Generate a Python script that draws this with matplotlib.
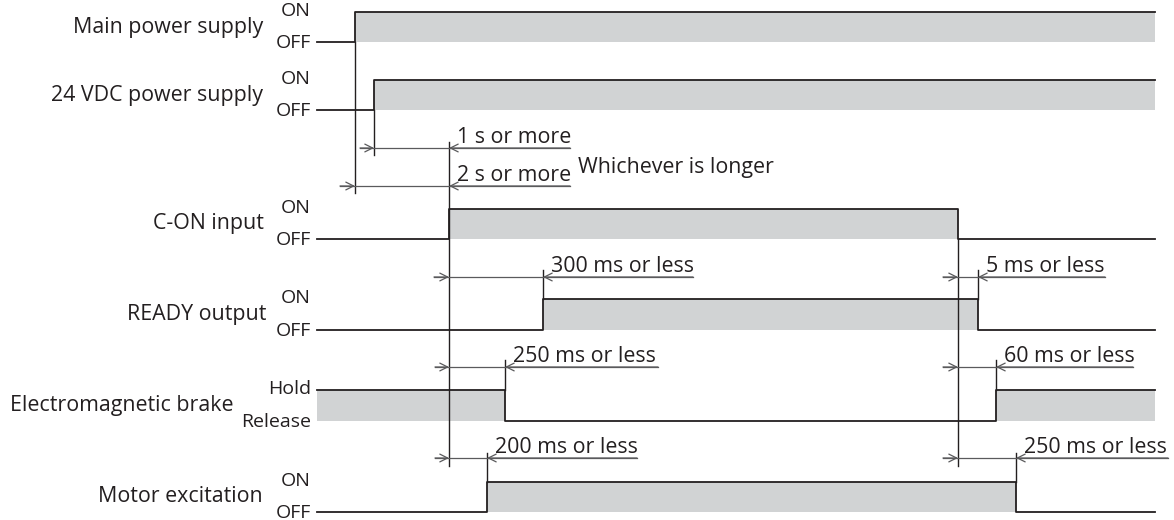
import matplotlib
matplotlib.use("Agg")
import matplotlib.pyplot as plt

# signal rows: name, level labels, y of high level, y of low level
names = ["Main power supply", "24 VDC power supply", "C-ON input",
         "READY output", "Electromagnetic brake", "Motor excitation"]
hi_labels = ["ON", "ON", "ON", "ON", "Hold", "ON"]
lo_labels = ["OFF", "OFF", "OFF", "OFF", "Release", "OFF"]
y_hi = [12, 80, 209, 299, 390, 482]
y_lo = [42, 110, 239, 330, 421, 512]
start_high = [False, False, False, False, True, False]
edges = [[355], [374], [449, 958], [543, 978], [505, 996], [487, 1016]]
x_start, x_end = 317, 1155
name_right = [263, 263, 264, 266, 234, 263]

# extension lines (x, y top, y bottom)
guides = [(355, 42, 193), (374, 110, 155), (449, 142, 466), (958, 239, 466),
          (543, 270, 299), (978, 270, 299), (505, 360, 390), (996, 360, 390),
          (487, 453, 482), (1016, 453, 482)]

# dimension arrows: y, right-pointing tip, left-pointing tip, line start, line end, text
dims = [(148, 374, 449, 360, 570, "1 s or more"),
        (186, 355, 449, 340, 570, "2 s or more"),
        (277, 449, 543, 434, 693, "300 ms or less"),
        (277, 958, 978, 943, 1105, "5 ms or less"),
        (367, 449, 505, 435, 658, "250 ms or less"),
        (367, 958, 996, 943, 1133, "60 ms or less"),
        (458, 449, 487, 435, 637, "200 ms or less"),
        (458, 958, 1016, 943, 1168, "250 ms or less")]

FILL = "#d1d3d4"
INK = "#231f20"
DIM = "#5a5a5c"
plt.rcParams["font.family"] = ["Open Sans", "DejaVu Sans"]

fig = plt.figure(figsize=(11.74, 5.2), dpi=100)
ax = fig.add_axes([0, 0, 1, 1])
ax.set_xlim(0, 1174)
ax.set_ylim(520, 0)
ax.axis("off")

for i in range(len(names)):
    xs = [x_start]
    state = start_high[i]
    ys = [y_hi[i] if state else y_lo[i]]
    segs = []
    seg_x = x_start
    for e in edges[i]:
        segs.append((seg_x, e, state))
        xs += [e, e]
        ys += [y_hi[i] if state else y_lo[i]]
        state = not state
        ys += [y_hi[i] if state else y_lo[i]]
        seg_x = e
    segs.append((seg_x, x_end, state))
    xs.append(x_end)
    ys.append(y_hi[i] if state else y_lo[i])
    for a, b, high in segs:
        if high:
            ax.fill_between([a, b], y_hi[i], y_lo[i], color=FILL, lw=0, zorder=1)
    ax.plot(xs, ys, color=INK, lw=1.3, zorder=3)
    mid = (y_hi[i] + y_lo[i]) / 2
    ax.text(name_right[i], mid, names[i], ha="right", va="center", fontsize=15.4, color=INK)
    ax.text(311, y_hi[i] - 1, hi_labels[i], ha="right", va="center", fontsize=14, color=INK)
    ax.text(311, y_lo[i] + 1, lo_labels[i], ha="right", va="center", fontsize=14, color=INK)

for x, y0, y1 in guides:
    ax.plot([x, x], [y0, y1], color=INK, lw=1.0, zorder=2)

arrow = dict(arrowstyle="->", color=DIM, lw=0.9, shrinkA=0, shrinkB=0,
             mutation_scale=14)
for y, tip_r, tip_l, x0, x1, label in dims:
    ax.plot([x0, x1], [y, y], color=DIM, lw=0.9, zorder=2)
    ax.annotate("", xy=(tip_r, y), xytext=(x0, y), arrowprops=arrow)
    ax.annotate("", xy=(tip_l, y), xytext=(x1, y), arrowprops=arrow)
    ax.text(tip_l + 8, y - 5, label, ha="left", va="baseline", fontsize=15.4, color=INK)

ax.text(578, 167, "Whichever is longer", ha="left", va="center", fontsize=15.4, color=INK)

fig.savefig("out.png", dpi=100)
